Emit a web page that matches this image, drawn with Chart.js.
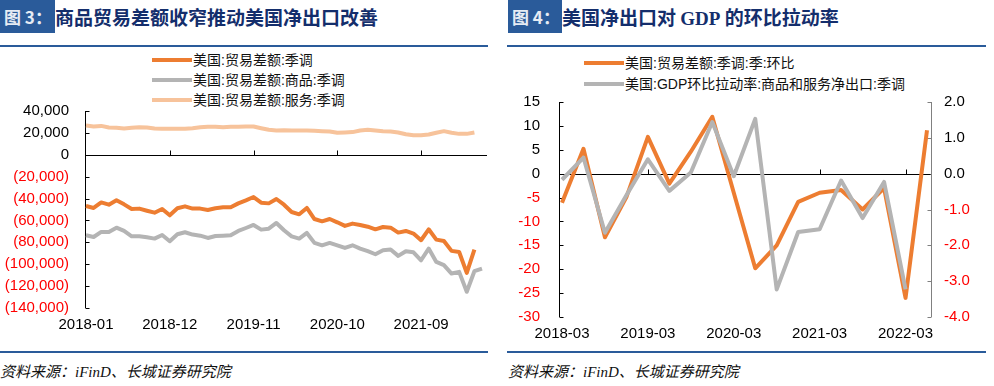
<!DOCTYPE html>
<html><head><meta charset="utf-8">
<script src="https://cdn.jsdelivr.net/npm/chart.js@4.4.1/dist/chart.umd.min.js"></script>
<style>
html,body{margin:0;padding:0;}
body{width:994px;height:386px;background:#fff;position:relative;overflow:hidden;font-family:"Liberation Sans","Noto Sans CJK SC",sans-serif;}
.box{position:absolute;top:0;height:33px;background:#2A5B9A;color:#E6ECF4;font-weight:bold;font-size:17px;line-height:33px;font-family:"Noto Sans CJK SC",sans-serif;white-space:nowrap;box-sizing:border-box;padding-left:4px;}
.title{position:absolute;top:0;height:33px;line-height:33px;color:#142E6C;font-weight:bold;font-size:19px;font-family:"Noto Sans CJK SC",sans-serif;white-space:nowrap;}
.serif{font-family:"Liberation Serif",serif;}
.rule{position:absolute;height:2px;background:#2A5B9A;}
.src{position:absolute;top:361px;font-size:15px;line-height:20px;font-style:italic;color:#111;font-family:"Noto Sans CJK SC",sans-serif;white-space:nowrap;}
.src i{font-family:"Liberation Serif",serif;}
.leg{position:absolute;font-size:14px;line-height:20px;color:#111;white-space:nowrap;font-family:"Liberation Sans","Noto Sans CJK SC",sans-serif;}
.leg span.sw{display:inline-block;width:40px;height:4px;vertical-align:middle;margin-right:1px;position:relative;top:-1px;}
canvas{position:absolute;}
</style>
</head><body>
<div class="box" style="left:0;width:55px;">图 3：</div>
<div class="title" style="left:55px;">商品贸易差额收窄推动美国净出口改善</div>
<div class="rule" style="left:0;top:45px;width:488px;"></div>
<div class="rule" style="left:0;top:351px;width:488px;"></div>
<div class="src" style="left:0;">资料来源：<i>iFinD</i>、长城证券研究院</div>

<div class="box" style="left:508px;width:54px;">图 4：</div>
<div class="title" style="left:562px;">美国净出口对 <span class="serif">GDP</span> 的环比拉动率</div>
<div class="rule" style="left:507px;top:45px;width:479px;"></div>
<div class="rule" style="left:507px;top:351px;width:479px;"></div>
<div class="src" style="left:508px;">资料来源：<i>iFinD</i>、长城证券研究院</div>

<div id="legL"></div>
<div id="legR"></div>

<canvas id="c1" width="497" height="255" style="left:0;top:85px;width:497px;height:255px;"></canvas>
<canvas id="c2" width="497" height="279" style="left:497px;top:71px;width:497px;height:279px;"></canvas>

<script>
// ---------- Figure 3 data (monthly, USD million) ----------
const monthLabels = [
 '2018-01','2018-02','2018-03','2018-04','2018-05','2018-06','2018-07','2018-08','2018-09','2018-10','2018-11','2018-12',
 '2019-01','2019-02','2019-03','2019-04','2019-05','2019-06','2019-07','2019-08','2019-09','2019-10','2019-11','2019-12',
 '2020-01','2020-02','2020-03','2020-04','2020-05','2020-06','2020-07','2020-08','2020-09','2020-10','2020-11','2020-12',
 '2021-01','2021-02','2021-03','2021-04','2021-05','2021-06','2021-07','2021-08','2021-09','2021-10','2021-11','2021-12',
 '2022-01','2022-02','2022-03','2022-04','2022-05'];
const monthTickLabels = ['2018-01','2018-12','2019-11','2020-10','2021-09'];
const tradeBalance = [
 -46800,-48600,-43500,-45600,-41600,-45300,-49500,-49200,-51100,-52900,
 -49500,-55300,-48900,-47100,-49200,-49200,-50500,-48900,-48000,-48000,
 -44400,-41600,-38600,-43800,-44400,-40400,-45600,-52300,-54400,-48600,
 -58700,-60800,-58700,-61700,-65000,-62900,-64100,-65700,-68100,-66000,
 -66600,-71100,-69600,-72000,-78100,-68100,-77500,-78700,-87800,-88800,
 -107900,-86600];
const goodsBalance = [
 -73600,-75100,-70500,-70500,-66600,-69600,-74500,-74500,-75400,-76600,
 -73300,-79000,-72600,-70800,-72900,-73900,-76000,-74200,-73900,-73600,
 -69600,-66900,-64100,-68400,-67500,-62300,-69000,-74500,-76600,-71400,
 -80500,-82700,-80500,-82700,-85100,-82700,-85700,-88100,-90900,-87200,
 -86600,-92400,-88100,-89100,-96400,-85700,-97900,-100900,-108500,-107000,
 -125200,-106400,-104000];
const servicesBalance = [
 26700,25800,26400,24900,24600,24000,24600,25200,24900,24000,
 23700,23700,23700,23700,24300,25200,25500,25500,25200,25500,
 25500,25800,25800,24300,22800,22200,22500,22200,22200,22200,
 21900,21600,21300,20100,20400,20700,22200,22800,22200,21600,
 21300,20400,18800,17900,17900,18500,20100,21600,20100,19100,
 19100,20400];
const fig3Names = ['美国:贸易差额:季调','美国:贸易差额:商品:季调','美国:贸易差额:服务:季调'];
const fig3Colors = ['#ED7D31','#B4B4B4','#F7C39B'];

// ---------- Figure 4 data (quarterly) ----------
const quarterLabels = ['2018-03','2018-06','2018-09','2018-12','2019-03','2019-06','2019-09','2019-12',
 '2020-03','2020-06','2020-09','2020-12','2021-03','2021-06','2021-09','2021-12','2022-03','2022-06'];
const quarterTickLabels = ['2018-03','2019-03','2020-03','2021-03','2022-03'];
const tradeBalanceQoQ = [-6.1,5.2,-13.3,-4.9,7.7,-2.1,4.6,11.9,-4.0,-19.8,-15.0,-5.9,-4.0,-3.4,-7.5,-3.0,-26.0,9.1];
const netExportContribution = [-0.17,0.45,-1.65,-0.6,0.4,-0.48,0.03,1.44,-0.07,1.53,-3.23,-1.63,-1.55,-0.19,-1.24,-0.23,-3.23,null];
const fig4Names = ['美国:贸易差额:季调:季:环比','美国:GDP环比拉动率:商品和服务净出口:季调'];
const fig4Colors = ['#ED7D31','#B4B4B4'];

// ---------- HTML legends ----------
function buildLegend(el, names, colors, left, top, step){
  names.forEach((n,i)=>{
    const d=document.createElement('div');
    d.className='leg';
    d.style.left=left+'px'; d.style.top=(top+i*step)+'px';
    d.innerHTML='<span class="sw" style="background:'+colors[i]+'"></span>'+n;
    el.appendChild(d);
  });
}
buildLegend(document.getElementById('legL'), fig3Names, fig3Colors, 152, 50, 20);
buildLegend(document.getElementById('legR'), fig4Names, fig4Colors, 584, 53, 21);

// ---------- decoration plugin: Excel-like axes with inward ticks ----------
function crisp(v){return Math.round(v)+0.5;}
const deco = {
  id:'deco',
  beforeDatasetsDraw(chart, args, o){
    const ctx=chart.ctx, ca=chart.chartArea;
    ctx.save(); ctx.lineWidth=1;
    for(const ax of o.axes){
      const s=chart.scales[ax.id];
      const x=crisp(ax.side==='left'? ca.left-ax.gap : ca.right+ax.gap);
      const dir=ax.side==='left'?1:-1;
      ctx.strokeStyle=ax.color;
      ctx.beginPath();
      ctx.moveTo(x,s.top); ctx.lineTo(x,s.bottom);
      s.ticks.forEach(t=>{const y=crisp(s.getPixelForValue(t.value)); ctx.moveTo(x,y); ctx.lineTo(x+dir*ax.tick,y);});
      ctx.stroke();
    }
    const ys=chart.scales[o.zeroScale];
    const y0=crisp(ys.getPixelForValue(0));
    const xs=chart.scales.x;
    ctx.strokeStyle='#000';
    ctx.beginPath();
    ctx.moveTo(crisp(ca.left-o.zeroLeft),y0); ctx.lineTo(ca.right+o.zeroRight,y0);
    xs.ticks.forEach((t,i)=>{
      if(i>0 && o.tickLabels.includes(xs.getLabelForValue(t.value))){
        const x=crisp(xs.getPixelForValue(t.value));
        ctx.moveTo(x,y0); ctx.lineTo(x,y0-o.xTick);
      }
    });
    ctx.stroke();
    ctx.restore();
  }
};

const tickFont={family:'"Liberation Sans", Arial, sans-serif',size:15};
function redIfNeg(c){return c.tick && c.tick.value<0 ? '#FF0000' : '#000000';}

// ---------- Figure 3 ----------
new Chart(document.getElementById('c1'),{
  type:'line',
  data:{labels:monthLabels,datasets:[
    {label:fig3Names[0],data:tradeBalance,borderColor:fig3Colors[0],borderWidth:4,pointRadius:0,tension:0,borderJoinStyle:'round'},
    {label:fig3Names[1],data:goodsBalance,borderColor:fig3Colors[1],borderWidth:4,pointRadius:0,tension:0,borderJoinStyle:'round'},
    {label:fig3Names[2],data:servicesBalance,borderColor:fig3Colors[2],borderWidth:4,pointRadius:0,tension:0,borderJoinStyle:'round'}
  ]},
  options:{
    responsive:false,animation:false,devicePixelRatio:1,
    layout:{padding:{top:0,right:15,left:0,bottom:0}},
    plugins:{legend:{display:false},tooltip:{enabled:false},
      deco:{axes:[{id:'y',side:'left',gap:1,tick:4,color:'#000'}],zeroScale:'y',zeroLeft:1,zeroRight:5,xTick:5,tickLabels:monthTickLabels}},
    scales:{
      x:{type:'category',offset:false,grid:{display:false,drawTicks:false},border:{display:false},
        afterFit(s){s.height=32;},
        ticks:{autoSkip:false,maxRotation:0,minRotation:0,padding:8,color:'#000',font:tickFont,
          callback(v){const l=this.getLabelForValue(v);return monthTickLabels.includes(l)?l:null;}}},
      y:{min:-140000,max:40000,grid:{display:false,drawTicks:false},border:{display:false},
        afterFit(s){s.width=86;},
        ticks:{stepSize:20000,autoSkip:false,padding:17,font:tickFont,color:redIfNeg,
          callback(v){const a=Math.abs(v).toLocaleString('en-US');return v<0?'('+a+')':a;}}}
    }
  },
  plugins:[deco]
});

// ---------- Figure 4 ----------
new Chart(document.getElementById('c2'),{
  type:'line',
  data:{labels:quarterLabels,datasets:[
    {label:fig4Names[0],data:tradeBalanceQoQ,yAxisID:'y',borderColor:fig4Colors[0],borderWidth:4,pointRadius:0,tension:0,borderJoinStyle:'round',order:1},
    {label:fig4Names[1],data:netExportContribution,yAxisID:'y1',borderColor:fig4Colors[1],borderWidth:4,pointRadius:0,tension:0,borderJoinStyle:'round',order:0}
  ]},
  options:{
    responsive:false,animation:false,devicePixelRatio:1,
    layout:{padding:{top:0,right:0,left:0,bottom:0}},
    plugins:{legend:{display:false},tooltip:{enabled:false},
      deco:{axes:[{id:'y',side:'left',gap:3.5,tick:4,color:'#000'},{id:'y1',side:'right',gap:3.5,tick:4,color:'#808080'}],
        zeroScale:'y',zeroLeft:3.5,zeroRight:3.5,xTick:5,tickLabels:quarterTickLabels}},
    scales:{
      x:{type:'category',offset:false,grid:{display:false,drawTicks:false},border:{display:false},
        afterFit(s){s.height=33;},
        ticks:{autoSkip:false,maxRotation:0,minRotation:0,padding:8,color:'#000',font:tickFont,
          callback(v){const l=this.getLabelForValue(v);return quarterTickLabels.includes(l)?l:null;}}},
      y:{position:'left',min:-30,max:15,grid:{display:false,drawTicks:false},border:{display:false},
        afterFit(s){s.width=65;},
        ticks:{stepSize:5,autoSkip:false,padding:22,font:tickFont,color:redIfNeg}},
      y1:{position:'right',min:-4,max:2,grid:{display:false,drawTicks:false},border:{display:false},
        afterFit(s){s.width=67;},
        ticks:{stepSize:1,autoSkip:false,padding:17,font:tickFont,color:redIfNeg,callback(v){return v.toFixed(1);}}}
    }
  },
  plugins:[deco]
});
</script>
</body></html>
